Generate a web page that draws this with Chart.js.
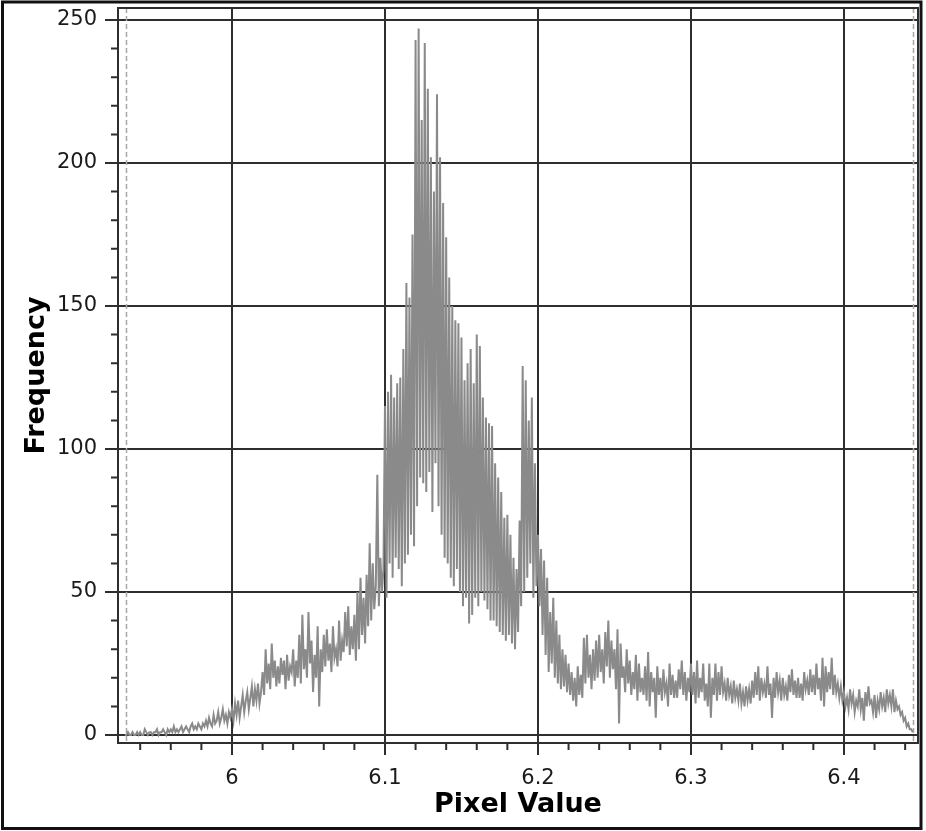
<!DOCTYPE html>
<html lang="en">
<head>
  <meta charset="UTF-8" />
  <title>Pixel Value Histogram</title>
  <script src="https://cdn.jsdelivr.net/npm/chart.js@4.4.1/dist/chart.umd.min.js"></script>
  <style>
    html, body { margin: 0; padding: 0; background: #fff; }
    #histChart { display: block; }
  </style>
</head>
<body>
  <canvas id="histChart" width="926" height="831"></canvas>

  <script>
    // histogram bins: first bin centre and bin width
    const binStart = 5.930
    const binWidth = 0.001

    // frequency per bin (10 bins per row)
    const freq = [
      0, 0, 1, 0, 0, 1, 0, 0, 1, 0,            // 5.930
      1, 0, 0, 2, 1, 0, 1, 1, 0, 1,            // 5.940
      1, 2, 0, 1, 1, 2, 1, 0, 2, 1,            // 5.950
      2, 1, 3, 1, 2, 1, 2, 3, 1, 2,            // 5.960
      3, 2, 1, 3, 4, 2, 3, 2, 4, 3,            // 5.970
      2, 4, 3, 5, 3, 6, 4, 3, 7, 4,            // 5.980
      5, 8, 4, 6, 9, 5, 7, 4, 8, 6,            // 5.990
      9, 5, 11, 7, 12, 6, 10, 14, 8, 12,       // 6.000
      15, 9, 13, 17, 10, 16, 12, 18, 11, 15,   // 6.010
      22, 14, 30, 18, 25, 16, 32, 20, 26, 17,  // 6.020
      24, 18, 27, 21, 26, 16, 28, 19, 24, 22,  // 6.030
      30, 17, 26, 20, 35, 18, 42, 23, 30, 20,  // 6.040
      43, 25, 33, 15, 28, 20, 38, 10, 30, 22,  // 6.050
      35, 24, 37, 26, 32, 22, 38, 27, 30, 24,  // 6.060
      40, 26, 33, 29, 43, 31, 45, 28, 38, 30,  // 6.070
      42, 26, 50, 30, 55, 35, 48, 32, 56, 38,  // 6.080
      67, 40, 60, 44, 52, 91, 45, 62, 50, 58,  // 6.090
      115, 48, 120, 60, 126, 55, 118, 62, 123, 58,   // 6.100
      125, 52, 135, 60, 158, 63, 153, 70, 175, 66,   // 6.110
      243, 80, 247, 90, 215, 88, 242, 85, 226, 92,   // 6.120
      202, 78, 190, 95, 224, 80, 202, 70, 186, 62,   // 6.130
      174, 60, 160, 55, 150, 52, 145, 58, 144, 50,   // 6.140
      139, 45, 124, 48, 130, 39, 135, 42, 123, 48,   // 6.150
      140, 45, 136, 50, 118, 47, 111, 44, 109, 40,   // 6.160
      108, 40, 95, 38, 90, 36, 85, 35, 76, 33,       // 6.170
      77, 35, 70, 32, 62, 30, 58, 36, 75, 45,        // 6.180
      129, 50, 124, 55, 110, 60, 118, 48, 95, 52,    // 6.190
      70, 45, 65, 35, 61, 28, 55, 22, 43, 25,  // 6.200
      48, 20, 40, 18, 35, 16, 30, 17, 28, 15,  // 6.210
      25, 14, 22, 12, 20, 10, 24, 14, 21, 13,  // 6.220
      34, 18, 35, 20, 28, 16, 30, 19, 33, 20,  // 6.230
      35, 22, 30, 18, 36, 24, 40, 20, 33, 23,  // 6.240
      30, 16, 37, 4, 32, 20, 24, 15, 30, 18,   // 6.250
      26, 14, 22, 16, 28, 12, 25, 15, 20, 14,  // 6.260
      24, 12, 29, 10, 22, 15, 20, 6, 24, 14,   // 6.270
      20, 12, 23, 15, 18, 10, 25, 14, 21, 13,  // 6.280
      19, 13, 23, 16, 26, 14, 22, 12, 20, 15,  // 6.290
      25, 14, 22, 11, 26, 13, 20, 15, 25, 12,  // 6.300
      18, 10, 25, 6, 20, 14, 25, 12, 22, 14,   // 6.310
      24, 15, 18, 12, 20, 14, 17, 11, 19, 13,  // 6.320
      16, 12, 18, 11, 15, 10, 17, 12, 16, 11,  // 6.330
      19, 13, 22, 14, 24, 12, 20, 15, 18, 13,  // 6.340
      24, 14, 18, 6, 20, 13, 22, 15, 19, 12,   // 6.350
      20, 14, 17, 12, 21, 15, 23, 14, 19, 13,  // 6.360
      20, 13, 18, 12, 22, 16, 19, 14, 23, 15,  // 6.370
      21, 14, 25, 16, 20, 12, 27, 10, 24, 15,  // 6.380
      22, 16, 27, 14, 21, 15, 18, 13, 17, 12,  // 6.390
      15, 10, 13, 9, 16, 11, 14, 8, 12, 10,    // 6.400
      16, 9, 13, 5, 15, 10, 17, 11, 12, 8,     // 6.410
      14, 6, 12, 9, 15, 10, 13, 8, 16, 11,     // 6.420
      14, 10, 16, 8, 12, 9, 10, 7, 8, 5,       // 6.430
      6, 3, 4, 2, 2, 1                         // 6.440
    ]

    const xTicks = [6, 6.1, 6.2, 6.3, 6.4]
    const yTicks = [0, 50, 100, 150, 200, 250]
    const xRange = [5.9255, 6.4484]
    const yRange = [-2.8, 254.2]
    const dataLimits = [5.9307, 6.4451]   // dashed markers

    const gridColor = '#2e2e2e'
    const textColor = '#1a1a1a'

    const points = freq.map((f, i) => ({ x: +(binStart + i * binWidth).toFixed(4), y: f }))

    // frame, dashed limit lines, minor ticks, outer border
    const decor = {
      id: 'decor',
      beforeDatasetsDraw(chart) {
        const { ctx, chartArea, scales: { x } } = chart
        ctx.save()
        ctx.strokeStyle = '#a8a8a8'
        ctx.lineWidth = 1.5
        ctx.setLineDash([5, 3])
        dataLimits.forEach(v => {
          const px = Math.round(x.getPixelForValue(v)) + 0.5
          ctx.beginPath()
          ctx.moveTo(px, chartArea.top)
          ctx.lineTo(px, chartArea.bottom)
          ctx.stroke()
        })
        ctx.restore()
      },
      afterDraw(chart) {
        const { ctx, chartArea, scales: { x, y } } = chart
        ctx.save()
        ctx.strokeStyle = gridColor
        ctx.lineWidth = 2
        ctx.strokeRect(chartArea.left, chartArea.top, chartArea.right - chartArea.left, chartArea.bottom - chartArea.top)

        ctx.beginPath()
        for (let v = 10; v < 255; v += 10) {
          if (v % 50 === 0) continue
          const py = y.getPixelForValue(v)
          ctx.moveTo(chartArea.left - 7, py)
          ctx.lineTo(chartArea.left, py)
        }
        for (let k = 297; k <= 322; k++) {
          if (k % 5 === 0) continue
          const px = x.getPixelForValue(k * 0.02)
          ctx.moveTo(px, chartArea.bottom)
          ctx.lineTo(px, chartArea.bottom + 7)
        }
        ctx.stroke()

        ctx.strokeStyle = '#111'
        ctx.lineWidth = 3
        ctx.strokeRect(2.5, 2, 918.5, 826.5)
        ctx.restore()
      }
    }

    new Chart(document.getElementById('histChart'), {
      type: 'line',
      data: {
        datasets: [{
          data: points,
          borderColor: '#8a8a8a',
          borderWidth: 2,
          pointRadius: 0,
          tension: 0,
          fill: false
        }]
      },
      options: {
        responsive: false,
        animation: false,
        events: [],
        layout: { padding: { top: 8, right: 8, left: 0, bottom: 0 } },
        plugins: {
          legend: { display: false },
          tooltip: { enabled: false }
        },
        scales: {
          x: {
            type: 'linear',
            min: xRange[0],
            max: xRange[1],
            afterBuildTicks: s => { s.ticks = xTicks.map(v => ({ value: v })) },
            afterFit: s => { s.height = 88; s.paddingLeft = 0; s.paddingRight = 0 },
            grid: { color: gridColor, lineWidth: 2, tickLength: 12, tickColor: gridColor },
            border: { display: true, color: gridColor, width: 2 },
            ticks: {
              color: textColor,
              font: { family: 'DejaVu Sans', size: 21 },
              padding: 11,
              maxRotation: 0,
              callback: v => String(+v.toFixed(1))
            },
            title: {
              display: true,
              text: 'Pixel Value',
              color: '#000',
              font: { family: 'DejaVu Sans', size: 27, weight: 'bold' },
              padding: { top: 0, bottom: 10 }
            }
          },
          y: {
            min: yRange[0],
            max: yRange[1],
            afterBuildTicks: s => { s.ticks = yTicks.map(v => ({ value: v })) },
            afterFit: s => { s.width = 118; s.paddingTop = 0; s.paddingBottom = 0 },
            grid: { color: gridColor, lineWidth: 2, tickLength: 13, tickColor: gridColor },
            border: { display: true, color: gridColor, width: 2 },
            ticks: {
              color: textColor,
              font: { family: 'DejaVu Sans', size: 21 },
              padding: 8
            },
            title: {
              display: true,
              text: 'Frequency',
              color: '#000',
              font: { family: 'DejaVu Sans', size: 27, weight: 'bold' },
              padding: { top: 21, bottom: 0 }
            }
          }
        }
      },
      plugins: [decor]
    })
  </script>
</body>
</html>
